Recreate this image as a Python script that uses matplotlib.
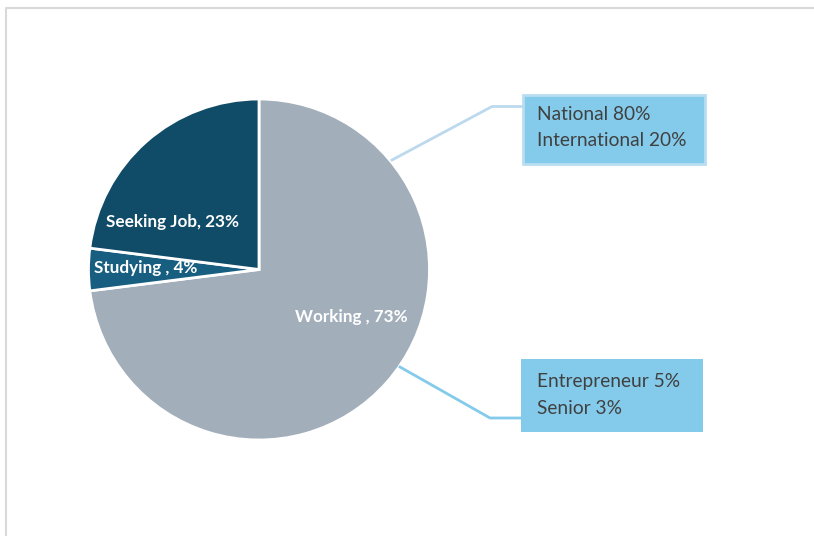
import matplotlib
matplotlib.use("Agg")
import matplotlib.pyplot as plt
from matplotlib.patches import Rectangle

categories = ["Working", "Studying", "Seeking Job"]
values = [73, 4, 23]
slice_labels = ["Working , 73%", "Studying , 4%", "Seeking Job, 23%"]
box1_lines = ["National 80%", "International 20%"]
box2_lines = ["Entrepreneur 5%", "Senior 3%"]

colors = ["#A2AFBB", "#175E80", "#104B68"]

W, H = 814, 536
fig = plt.figure(figsize=(W / 100, H / 100), dpi=100)
ax = fig.add_axes([0, 0, 1, 1])
ax.set_xlim(0, W)
ax.set_ylim(0, H)
ax.set_aspect("equal")
ax.axis("off")

def Y(y):
    return H - y

# outer border (top & left visible)
ax.plot([5.5, 5.5, W + 5], [0, Y(7.5), Y(7.5)], color="#D9D9D9", lw=1.5,
        solid_capstyle="butt")

cx, cy, r = 259, Y(269.5), 170.5
ax.pie(values, colors=colors, startangle=90, counterclock=False,
       center=(cx, cy), radius=r, frame=True,
       wedgeprops=dict(edgecolor="white", linewidth=2))
ax.set_xlim(0, W)
ax.set_ylim(0, H)
ax.axis("off")

font = "Lato"
label_pos = [(351, 317), (146, 268), (173, 222)]
for (x, y), t in zip(label_pos, slice_labels):
    ax.text(x, Y(y), t, ha="center", va="center", color="white",
            fontsize=12.3, fontweight="bold", family=font)

# connectors
ax.plot([392, 492, 522], [Y(160), Y(106.5), Y(106.5)], color="#BDD9EE", lw=2)
ax.plot([400, 490, 521], [Y(367), Y(418), Y(418)], color="#84CBEB", lw=2)

# boxes
ax.add_patch(Rectangle((523, Y(164)), 182, 69, facecolor="#84CBEB",
                       edgecolor="#B8DEF1", lw=2))
ax.add_patch(Rectangle((521, Y(432)), 182, 73, facecolor="#84CBEB",
                       edgecolor="none"))

for i, t in enumerate(box1_lines):
    ax.text(537, Y(115 + i * 26), t, ha="left", va="center", color="#404040",
            fontsize=13.8, family=font)
for i, t in enumerate(box2_lines):
    ax.text(537, Y(382 + i * 26), t, ha="left", va="center", color="#404040",
            fontsize=13.8, family=font)

fig.savefig("out.png", dpi=100)
